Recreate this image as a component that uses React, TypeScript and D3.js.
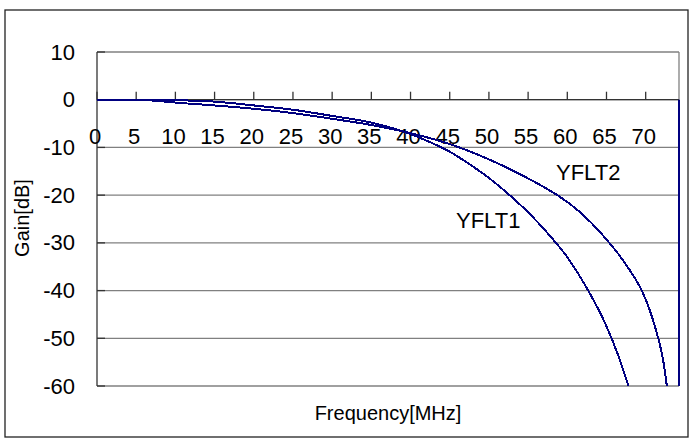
import React from "react";
import * as d3 from "d3";

// Frequency (MHz) / Gain (dB)
const yflt1Freq = [0, 5, 10, 15, 20, 25, 30, 35, 40, 42.5, 45, 47.5, 50, 52.5, 55, 57.5, 60, 62.5, 65, 66.5, 67.8];
const yflt1Gain = [0, 0, -0.1, -0.4, -1.2, -2.1, -3.4, -4.8, -7.2, -8.9, -10.9, -13.5, -16.4, -19.8, -23.6, -28, -33, -39.5, -47.5, -53.6, -60];
const yflt2Freq = [0, 5, 8, 10, 15, 20, 25, 30, 35, 40, 45, 50, 55, 57, 59, 61, 63, 65, 66.5, 68, 69.5, 70.5, 71.6, 72.2, 72.7];
const yflt2Gain = [0, 0, -0.3, -0.6, -1.2, -1.9, -2.8, -4.0, -5.3, -7.0, -9.3, -12.5, -16.5, -18.3, -20.3, -22.7, -25.7, -29.3, -32.3, -35.8, -40, -44, -50, -54.3, -60];
const edgeFreq = [74.25, 74.25];
const edgeGain = [0, -60];

const xTicks = [0, 5, 10, 15, 20, 25, 30, 35, 40, 45, 50, 55, 60, 65, 70];
const yTicks = [10, 0, -10, -20, -30, -40, -50, -60];
const seriesNames = ["YFLT1", "YFLT2"];
const xTitle = "Frequency[MHz]";
const yTitle = "Gain[dB]";

const W = 690, H = 440;
const left = 97, right = 679, top = 52, bottom = 386;
const NAVY = "#000080";
const FONT = "Arial, 'Liberation Sans', sans-serif";

export default function App() {
  const x = d3.scaleLinear().domain([0, 74.25]).range([left, right]);
  const y = d3.scaleLinear().domain([10, -60]).range([top, bottom]);
  const line = d3
    .line<[number, number]>()
    .x((d) => x(d[0]))
    .y((d) => y(d[1]))
    .curve(d3.curveMonotoneX);
  const lineLin = d3
    .line<[number, number]>()
    .x((d) => x(d[0]))
    .y((d) => y(d[1]));
  const s1 = yflt1Freq.map((f, i) => [f, yflt1Gain[i]] as [number, number]);
  const s2 = yflt2Freq.map((f, i) => [f, yflt2Gain[i]] as [number, number]);
  const se = edgeFreq.map((f, i) => [f, edgeGain[i]] as [number, number]);

  return (
    <svg width={W} height={H} style={{ position: "absolute", left: 0, top: 0, background: "#fff" }}>
      <rect x={5} y={10} width={683} height={427} fill="#fff" stroke="#222" strokeWidth={1.3} />
      {/* gridlines */}
      {yTicks.map((t) => (
        <line key={"g" + t} x1={left} x2={right} y1={y(t)} y2={y(t)} stroke="#808080" strokeWidth={1.3} />
      ))}
      <line x1={right} x2={right} y1={top} y2={bottom} stroke="#808080" strokeWidth={1.3} />
      {/* y axis */}
      <line x1={left} x2={left} y1={top} y2={bottom} stroke="#333" strokeWidth={1.3} />
      {yTicks.map((t) => (
        <g key={"yt" + t}>
          <line x1={left} x2={left + 8} y1={y(t)} y2={y(t)} stroke="#333" strokeWidth={1.3} />
          <text x={75} y={y(t) + 7.5} textAnchor="end" fontFamily={FONT} fontSize={22} fill="#000">
            {t}
          </text>
        </g>
      ))}
      {/* x axis at 0 dB */}
      <line x1={left} x2={right} y1={y(0)} y2={y(0)} stroke="#333" strokeWidth={1.3} />
      {xTicks.map((t) => (
        <g key={"xt" + t}>
          <line x1={x(t)} x2={x(t)} y1={y(0)} y2={y(0) - 8} stroke="#333" strokeWidth={1.3} />
          <text x={x(t) - 2} y={144} textAnchor="middle" fontFamily={FONT} fontSize={22} fill="#000">
            {t}
          </text>
        </g>
      ))}
      {/* series */}
      <path d={line(s1) || ""} fill="none" stroke={NAVY} strokeWidth={2} shapeRendering="crispEdges" />
      <path d={line(s2) || ""} fill="none" stroke={NAVY} strokeWidth={2} shapeRendering="crispEdges" />
      <path d={lineLin(se) || ""} fill="none" stroke={NAVY} strokeWidth={2} />
      <text x={456} y={228} fontFamily={FONT} fontSize={22} fill="#000">{seriesNames[0]}</text>
      <text x={556} y={180} fontFamily={FONT} fontSize={22} fill="#000">{seriesNames[1]}</text>
      {/* titles */}
      <text x={388} y={420} textAnchor="middle" fontFamily={FONT} fontSize={20} fill="#000">{xTitle}</text>
      <text transform="translate(29,218) rotate(-90)" textAnchor="middle" fontFamily={FONT} fontSize={20} fill="#000">
        {yTitle}
      </text>
    </svg>
  );
}
